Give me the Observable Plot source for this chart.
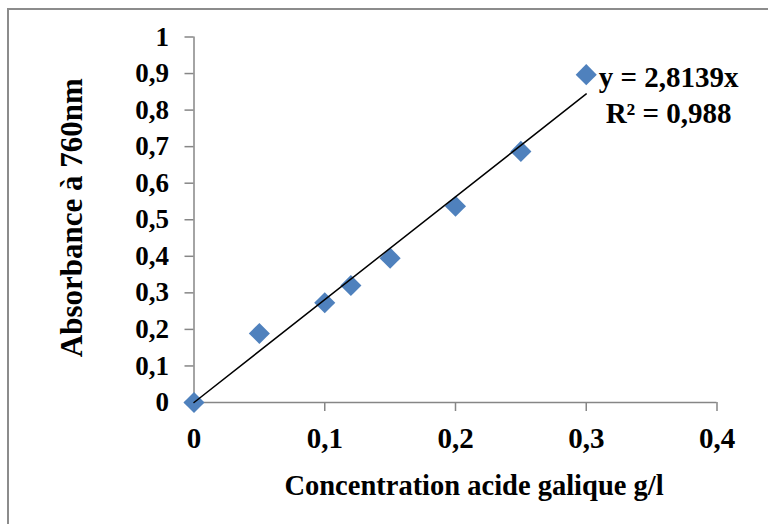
<!DOCTYPE html>
<html><head><meta charset="utf-8">
<script src="https://cdn.jsdelivr.net/npm/d3@7"></script>
<script src="https://cdn.jsdelivr.net/npm/@observablehq/plot@0.6"></script>
<style>
html,body{margin:0;padding:0;background:#fff;overflow:hidden;}
#wrap{position:relative;width:768px;height:524px;}
#border{position:absolute;left:7px;top:8px;width:800px;height:600px;border:2px solid #8c8c8c;pointer-events:none;}
svg{display:block;}
</style></head><body><div id="wrap"><div id="border"></div></div>
<script>
const concentration = [0, 0.05, 0.1, 0.12, 0.15, 0.2, 0.25, 0.3];
const absorbance = [0, 0.189, 0.273, 0.32, 0.395, 0.537, 0.687, 0.897];
const xTicks = [0, 0.1, 0.2, 0.3, 0.4];
const yTicks = [0, 0.1, 0.2, 0.3, 0.4, 0.5, 0.6, 0.7, 0.8, 0.9, 1];
const slope = 2.8139;
const equationLines = ["y = 2,8139x", "R² = 0,988"];
const xTitle = "Concentration acide galique g/l";
const yTitle = "Absorbance à 760nm";
const annotationPos = {x: 0.363, y: 0.766};

const points = concentration.map((c, i) => ({c, a: absorbance[i]}));
const trend = d3.extent(concentration);
const fmt = d => String(+d.toFixed(2)).replace(".", ",");
const gray = "#868686";

const chart = Plot.plot({
  width: 768, height: 524,
  marginLeft: 193.5, marginRight: 51.5, marginTop: 36.5, marginBottom: 122,
  x: {domain: [0, 0.4]},
  y: {domain: [0, 1]},
  style: {fontFamily: "'Liberation Serif', 'Times New Roman', serif", fontWeight: "bold", color: "#000", background: "transparent"},
  marks: [
    Plot.axisY(yTicks, {tickSize: 9, tickPadding: 16, fontSize: 27, stroke: gray, strokeWidth: 1.5, fill: "#000", tickFormat: fmt, label: null}),
    Plot.axisX(xTicks, {tickSize: 9, tickPadding: 16, fontSize: 29, stroke: gray, strokeWidth: 1.5, fill: "#000", tickFormat: fmt, label: null}),
    Plot.ruleX([0], {stroke: gray, strokeWidth: 1.5}),
    Plot.ruleY([0], {stroke: gray, strokeWidth: 1.5}),
    Plot.dot(points, {x: "c", y: "a", symbol: "diamond2", r: 9.5, fill: "#4F81BD"}),
    Plot.line(trend, {x: d => d, y: d => slope * d, stroke: "#000", strokeWidth: 1.5}),
    Plot.text([equationLines.join("\n")], {x: annotationPos.x, y: annotationPos.y, textAnchor: "middle", lineAnchor: "bottom", lineHeight: 1.24, fontSize: 29, fill: "#000"}),
    Plot.text([xTitle], {frameAnchor: "bottom", textAnchor: "middle", dx: 18.5, dy: 92, lineAnchor: "bottom", fontSize: 28.5, fill: "#000"}),
    Plot.text([yTitle], {frameAnchor: "left", textAnchor: "middle", rotate: -90, dx: -112, dy: -2, lineAnchor: "bottom", fontSize: 31, fill: "#000"})
  ]
});
document.getElementById("wrap").prepend(chart);
</script></body></html>
